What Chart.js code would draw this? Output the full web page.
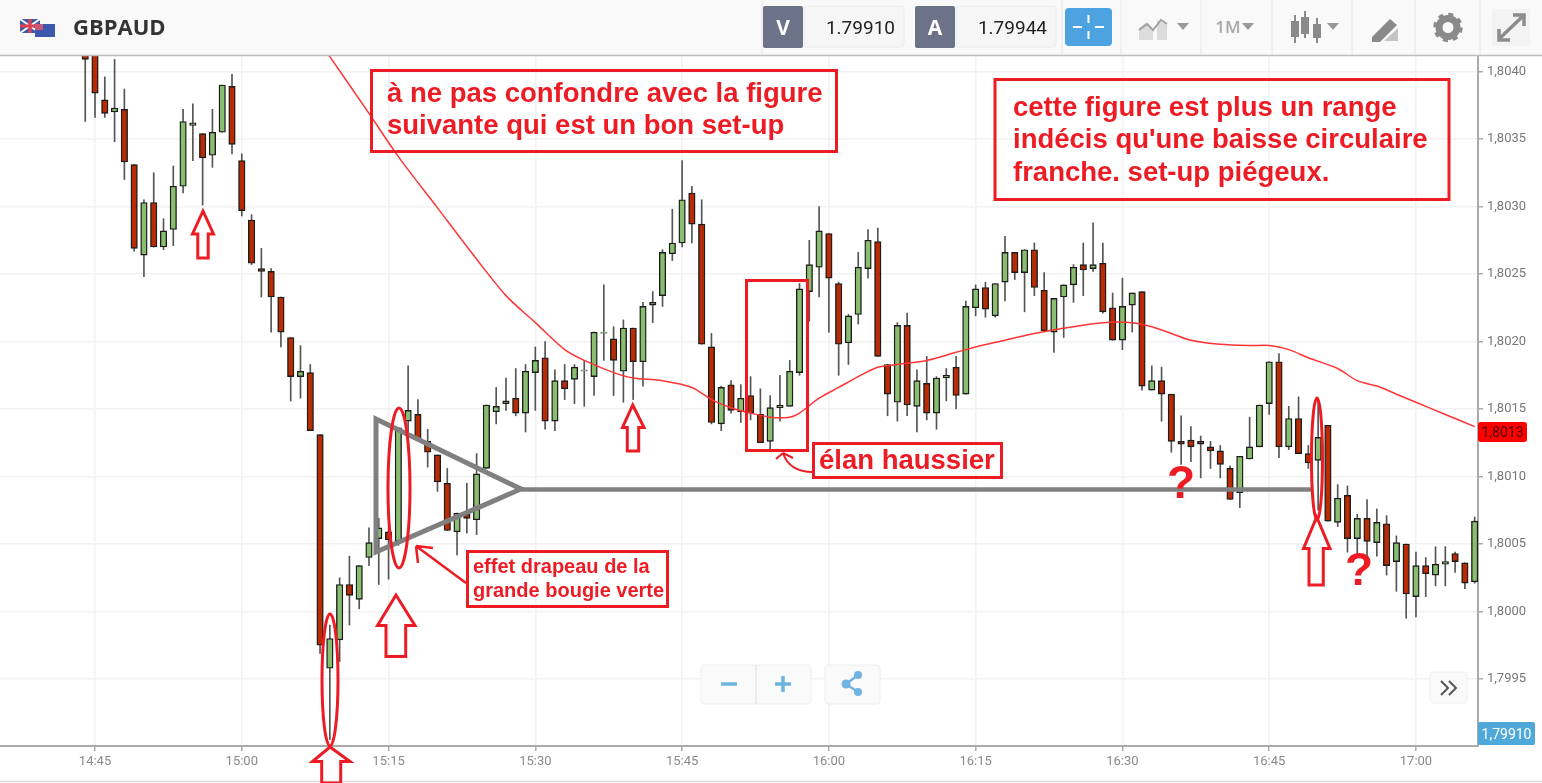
<!DOCTYPE html>
<html>
<head>
<meta charset="utf-8">
<title>GBPAUD</title>
<script src="https://cdn.jsdelivr.net/npm/chart.js@4/dist/chart.umd.min.js"></script>
<style>
html, body { margin: 0; padding: 0; background: #fff; overflow: hidden; }
#page { position: relative; width: 1542px; height: 783px; overflow: hidden; }
#chart { position: absolute; left: 0; top: 56px; }
#over { position: absolute; left: 0; top: 0; }
.note { font-family: "Liberation Sans", Arial, sans-serif; font-weight: bold; fill: #ed1c24; }
.ui { font-family: Roboto, sans-serif; }
</style>
</head>
<body>
<div id="page">
  <canvas id="chart" width="1542" height="727"></canvas>
  <svg id="over" width="1542" height="783" viewBox="0 0 1542 783">
    <!-- toolbar -->
    <rect x="0" y="0" width="1542" height="55" fill="#f9f9f9"/>
    <line x1="0" y1="55.5" x2="1542" y2="55.5" stroke="#bdbdbd" stroke-width="1.5"/>
    <g>
      <rect x="20" y="19" width="20" height="14" fill="#3f5aa8"/>
      <path d="M20 19L40 33M40 19L20 33" stroke="#fff" stroke-width="2"/>
      <path d="M30 19V33M20 26H40" stroke="#e04050" stroke-width="3"/>
      <rect x="35" y="24" width="20" height="13" fill="#3c58ad"/>
      <rect x="35" y="24" width="8" height="6" fill="#c85a78"/>
    </g>
    <text x="73" y="35" font-family="Open Sans" font-weight="700" font-size="22" fill="#333">GBPAUD</text>

    <rect x="804" y="6" width="100" height="41" rx="3" fill="#f6f6f6" stroke="#ececec"/>
    <rect x="763" y="6" width="40" height="42" rx="2" fill="#6c7287"/>
    <text x="783" y="35" text-anchor="middle" font-family="Open Sans" font-weight="700" font-size="21" fill="#fff">V</text>
    <text x="895" y="34" text-anchor="end" class="ui" font-size="19" fill="#222">1.79910</text>
    <rect x="956" y="6" width="100" height="41" rx="3" fill="#f6f6f6" stroke="#ececec"/>
    <rect x="915" y="6" width="40" height="42" rx="2" fill="#6c7287"/>
    <text x="935" y="35" text-anchor="middle" font-family="Open Sans" font-weight="700" font-size="21" fill="#fff">A</text>
    <text x="1047" y="34" text-anchor="end" class="ui" font-size="19" fill="#222">1.79944</text>
    <rect x="1065" y="8" width="47" height="38" rx="4" fill="#4da3df"/>
    <path d="M1088.5 15V23M1088.5 31V39M1073 27H1082M1095 27H1104" stroke="#fff" stroke-width="2"/>

    <path d="M762 0V55M1062 0V55M1121 0V55M1201 0V55M1272 0V55M1352 0V55M1415 0V55M1480 0V55" stroke="#e6e6e6"/>

    <path d="M1139 40V28L1147 22L1153 30V40ZM1157 40V20L1167 25V40Z" fill="#dcdcdc"/>
    <path d="M1139 30L1147 24L1153 30L1161 20L1167 24" stroke="#a0a0a0" stroke-width="2" fill="none"/>
    <path d="M1177 23H1189L1183 30Z" fill="#999"/>
    <text x="1228" y="33" text-anchor="middle" font-family="Open Sans" font-weight="600" font-size="17" fill="#a8a8a8">1M</text>
    <path d="M1242 23H1254L1248 30Z" fill="#999"/>
    <path d="M1295 15V43M1305 11V38M1317 18V43" stroke="#8a8a8a" stroke-width="2"/>
    <rect x="1291" y="21" width="8" height="16" fill="#8a8a8a"/>
    <rect x="1301" y="17" width="8" height="17" fill="#8a8a8a"/>
    <rect x="1313" y="24" width="8" height="14" fill="#8a8a8a"/>
    <path d="M1327 23H1339L1333 30Z" fill="#999"/>
    <path d="M1372 37L1390 19L1397 25L1380 42L1372 42Z" fill="#8a8a8a"/>
    <path d="M1384 41L1398 41L1398 28Z" fill="#c4c4c4"/>
    <circle cx="1448" cy="27.5" r="9" fill="none" stroke="#8a8a8a" stroke-width="7"/>
    <circle cx="1448" cy="27.5" r="13" fill="none" stroke="#8a8a8a" stroke-width="3.5" stroke-dasharray="5 5.2"/>
    <rect x="1492" y="9" width="38" height="37" fill="#f3f3f3"/>
    <path d="M1499 39L1523 16M1513 15H1524V26M1499 29V40H1510" stroke="#8c8c8c" stroke-width="3.5" fill="none"/>

    <!-- bottom controls -->
    <line x1="0" y1="781.5" x2="1542" y2="781.5" stroke="#dcdcdc" stroke-width="1.5"/>
    <rect x="701" y="665" width="110" height="39" rx="3" fill="#fafafa" stroke="#eeeeee"/>
    <line x1="756" y1="665" x2="756" y2="704" stroke="#dddddd"/>
    <path d="M721 684H737M775 684H791M783 676V692" stroke="#6fb4e0" stroke-width="3.5"/>
    <rect x="825" y="665" width="55" height="39" rx="3" fill="#fafafa" stroke="#eeeeee"/>
    <path d="M858 675L846 684L858 692" stroke="#6fb4e0" stroke-width="2.5" fill="none"/>
    <circle cx="858" cy="675" r="4" fill="#6fb4e0"/>
    <circle cx="846" cy="684" r="4.5" fill="#6fb4e0"/>
    <circle cx="858" cy="692" r="4" fill="#6fb4e0"/>
    <rect x="1430" y="672" width="37" height="31" rx="3" fill="#fafafa" stroke="#eeeeee"/>
    <path d="M1441 681L1448 688L1441 695M1449 681L1456 688L1449 695" stroke="#555" stroke-width="2" fill="none"/>

    <!-- price labels -->
    <rect x="1478" y="722" width="57" height="23" rx="2" fill="#4ea8d9"/>
    <text x="1506.5" y="739" text-anchor="middle" class="ui" font-size="14" fill="#fff">1,79910</text>
    <rect x="1478" y="422" width="49" height="20" rx="3" fill="#ff0000"/>
    <text x="1502.5" y="437" text-anchor="middle" class="ui" font-size="14" fill="#4a0000">1,8013</text>

    <!-- flag drawn over the big candle -->
    <path d="M376 419L521 489L376 552Z" fill="none" stroke="#808080" stroke-width="5" stroke-linejoin="miter"/>
    <line x1="521" y1="489.5" x2="1311" y2="489.5" stroke="#808080" stroke-width="4.5"/>

    <!-- notes -->
    <g fill="none" stroke="#ed1c24" stroke-width="3">
      <rect x="371.5" y="70.5" width="465" height="81"/>
      <rect x="995" y="79.5" width="454" height="120"/>
      <rect x="813.5" y="443.5" width="188" height="34"/>
      <rect x="467.5" y="551.5" width="200" height="55"/>
      <rect x="746.5" y="280.5" width="61" height="170"/>
      <ellipse cx="330" cy="680" rx="8" ry="66"/>
      <ellipse cx="399" cy="488" rx="11" ry="80"/>
      <ellipse cx="1317" cy="459" rx="5.5" ry="61"/>
      <path d="M203 211L192.5 234H197.8V258H208.2V234H213.5Z"/>
      <path d="M330 747L312.5 761.5H321.7V783H340.7V761.5H350Z"/>
      <path d="M396 595L377.5 625.5H386V656.5H405.7V625.5H415Z"/>
      <path d="M632.7 405L622.5 427.5H627.3V451H638.7V427.5H644Z"/>
      <path d="M1316.7 517L1303.5 548.5H1309V585H1323.3V548.5H1330Z"/>
      <path d="M466 583L416 546M416 546L433 548M416 546L418 563" stroke-width="2.5"/>
      <path d="M813 472C797 472 787 465 783 453M783 453L776 459M783 453L793 458" stroke-width="2"/>
    </g>
    <text class="note" x="387" y="102" font-size="27.5">à ne pas confondre avec la figure</text>
    <text class="note" x="387" y="134" font-size="27.5">suivante qui est un bon set-up</text>
    <text class="note" x="1013" y="116" font-size="27.5">cette figure est plus un range</text>
    <text class="note" x="1013" y="148" font-size="27.5">indécis qu'une baisse circulaire</text>
    <text class="note" x="1013" y="181" font-size="27.5">franche. set-up piégeux.</text>
    <text class="note" x="819" y="469" font-size="27.5">élan haussier</text>
    <text class="note" x="473" y="573" font-size="20">effet drapeau de la</text>
    <text class="note" x="473" y="597" font-size="20">grande bougie verte</text>
    <text class="note" x="1181" y="498" font-size="46" text-anchor="middle">?</text>
    <text class="note" x="1359" y="585" font-size="46" text-anchor="middle">?</text>
  </svg>
</div>
<script>
const candleTimes = [
  '14:44', '14:45', '14:46', '14:47', '14:48', '14:49', '14:50', '14:51', '14:52', '14:53', '14:54', '14:55',
  '14:56', '14:57', '14:58', '14:59', '15:00', '15:01', '15:02', '15:03', '15:04', '15:05', '15:06', '15:07',
  '15:08', '15:09', '15:10', '15:11', '15:12', '15:13', '15:14', '15:15', '15:16', '15:17', '15:18', '15:19',
  '15:20', '15:21', '15:22', '15:23', '15:24', '15:25', '15:26', '15:27', '15:28', '15:29', '15:30', '15:31',
  '15:32', '15:33', '15:34', '15:35', '15:36', '15:37', '15:38', '15:39', '15:40', '15:41', '15:42', '15:43',
  '15:44', '15:45', '15:46', '15:47', '15:48', '15:49', '15:50', '15:51', '15:52', '15:53', '15:54', '15:55',
  '15:56', '15:57', '15:58', '15:59', '16:00', '16:01', '16:02', '16:03', '16:04', '16:05', '16:06', '16:07',
  '16:08', '16:09', '16:10', '16:11', '16:12', '16:13', '16:14', '16:15', '16:16', '16:17', '16:18', '16:19',
  '16:20', '16:21', '16:22', '16:23', '16:24', '16:25', '16:26', '16:27', '16:28', '16:29', '16:30', '16:31',
  '16:32', '16:33', '16:34', '16:35', '16:36', '16:37', '16:38', '16:39', '16:40', '16:41', '16:42', '16:43',
  '16:44', '16:45', '16:46', '16:47', '16:48', '16:49', '16:50', '16:51', '16:52', '16:53', '16:54', '16:55',
  '16:56', '16:57', '16:58', '16:59', '17:00', '17:01', '17:02', '17:03', '17:04', '17:05', '17:06'
];
const openPrices = [
  1.80416, 1.80423, 1.80379, 1.80370, 1.80372, 1.80331, 1.80264, 1.80303, 1.80270, 1.80283, 1.80315, 1.80360,
  1.80354, 1.80338, 1.80355, 1.80389, 1.80334, 1.80290, 1.80254, 1.80252, 1.80233, 1.80203, 1.80174, 1.80177,
  1.80131, 1.79958, 1.79979, 1.80020, 1.80009, 1.80040, 1.80054, 1.80059, 1.80052, 1.80141, 1.80146, 1.80126,
  1.80116, 1.80095, 1.80059, 1.80072, 1.80068, 1.80106, 1.80148, 1.80154, 1.80158, 1.80147, 1.80177, 1.80188,
  1.80141, 1.80171, 1.80172, 1.80178, 1.80174, 1.80206, 1.80202, 1.80178, 1.80210, 1.80185, 1.80227, 1.80234,
  1.80265, 1.80273, 1.80310, 1.80287, 1.80196, 1.80139, 1.80168, 1.80148, 1.80160, 1.80146, 1.80126, 1.80151,
  1.80152, 1.80177, 1.80237, 1.80255, 1.80280, 1.80243, 1.80199, 1.80220, 1.80254, 1.80274, 1.80183, 1.80155,
  1.80212, 1.80152, 1.80169, 1.80147, 1.80173, 1.80181, 1.80161, 1.80225, 1.80240, 1.80219, 1.80244, 1.80266,
  1.80251, 1.80268, 1.80238, 1.80207, 1.80233, 1.80242, 1.80257, 1.80254, 1.80258, 1.80225, 1.80201, 1.80227,
  1.80237, 1.80164, 1.80171, 1.80161, 1.80126, 1.80127, 1.80126, 1.80122, 1.80119, 1.80106, 1.80088, 1.80113,
  1.80122, 1.80154, 1.80185, 1.80122, 1.80143, 1.80117, 1.80112, 1.80138, 1.80066, 1.80086, 1.80054, 1.80069,
  1.80051, 1.80065, 1.80037, 1.80050, 1.80011, 1.80034, 1.80027, 1.80035, 1.80043, 1.80036, 1.80022
];
const highPrices = [
  1.80423, 1.80431, 1.80396, 1.80409, 1.80387, 1.80331, 1.80305, 1.80325, 1.80291, 1.80330, 1.80372, 1.80376,
  1.80354, 1.80372, 1.80390, 1.80398, 1.80339, 1.80294, 1.80269, 1.80254, 1.80233, 1.80203, 1.80197, 1.80183,
  1.80131, 1.79990, 1.80025, 1.80041, 1.80034, 1.80062, 1.80069, 1.80062, 1.80136, 1.80182, 1.80157, 1.80135,
  1.80116, 1.80106, 1.80073, 1.80095, 1.80117, 1.80153, 1.80166, 1.80173, 1.80180, 1.80183, 1.80196, 1.80200,
  1.80179, 1.80183, 1.80183, 1.80186, 1.80207, 1.80242, 1.80211, 1.80216, 1.80210, 1.80229, 1.80237, 1.80268,
  1.80298, 1.80334, 1.80315, 1.80305, 1.80206, 1.80167, 1.80171, 1.80168, 1.80174, 1.80165, 1.80160, 1.80175,
  1.80186, 1.80243, 1.80275, 1.80300, 1.80280, 1.80244, 1.80220, 1.80266, 1.80283, 1.80284, 1.80183, 1.80214,
  1.80221, 1.80179, 1.80189, 1.80174, 1.80180, 1.80189, 1.80230, 1.80242, 1.80244, 1.80243, 1.80278, 1.80266,
  1.80268, 1.80273, 1.80251, 1.80232, 1.80242, 1.80257, 1.80273, 1.80288, 1.80273, 1.80236, 1.80247, 1.80236,
  1.80237, 1.80182, 1.80181, 1.80161, 1.80145, 1.80137, 1.80130, 1.80126, 1.80123, 1.80108, 1.80115, 1.80144,
  1.80153, 1.80185, 1.80191, 1.80152, 1.80159, 1.80123, 1.80157, 1.80138, 1.80094, 1.80093, 1.80072, 1.80083,
  1.80076, 1.80071, 1.80056, 1.80050, 1.80044, 1.80040, 1.80048, 1.80048, 1.80044, 1.80036, 1.80070
];
const lowPrices = [
  1.80363, 1.80366, 1.80366, 1.80348, 1.80320, 1.80267, 1.80248, 1.80270, 1.80268, 1.80271, 1.80310, 1.80334,
  1.80301, 1.80329, 1.80355, 1.80339, 1.80293, 1.80257, 1.80233, 1.80207, 1.80196, 1.80156, 1.80158, 1.80134,
  1.79969, 1.79905, 1.79963, 1.79990, 1.80002, 1.80034, 1.80020, 1.80024, 1.80049, 1.80133, 1.80127, 1.80107,
  1.80089, 1.80060, 1.80042, 1.80058, 1.80057, 1.80106, 1.80139, 1.80149, 1.80145, 1.80133, 1.80149, 1.80135,
  1.80134, 1.80157, 1.80154, 1.80152, 1.80160, 1.80186, 1.80160, 1.80155, 1.80157, 1.80167, 1.80214, 1.80226,
  1.80260, 1.80270, 1.80273, 1.80198, 1.80139, 1.80134, 1.80147, 1.80140, 1.80142, 1.80125, 1.80120, 1.80141,
  1.80152, 1.80175, 1.80215, 1.80233, 1.80207, 1.80175, 1.80183, 1.80213, 1.80247, 1.80189, 1.80145, 1.80141,
  1.80145, 1.80133, 1.80142, 1.80135, 1.80156, 1.80150, 1.80161, 1.80219, 1.80218, 1.80218, 1.80230, 1.80246,
  1.80222, 1.80234, 1.80208, 1.80192, 1.80203, 1.80229, 1.80234, 1.80252, 1.80221, 1.80201, 1.80194, 1.80207,
  1.80164, 1.80164, 1.80141, 1.80118, 1.80109, 1.80111, 1.80099, 1.80106, 1.80099, 1.80083, 1.80077, 1.80113,
  1.80122, 1.80146, 1.80114, 1.80120, 1.80117, 1.80106, 1.80075, 1.80067, 1.80063, 1.80044, 1.80041, 1.80041,
  1.80041, 1.80027, 1.80015, 1.79995, 1.79996, 1.80011, 1.80019, 1.80019, 1.80029, 1.80017, 1.80021
];
const closePrices = [
  1.80409, 1.80384, 1.80369, 1.80373, 1.80333, 1.80269, 1.80303, 1.80270, 1.80282, 1.80315, 1.80363, 1.80362,
  1.80336, 1.80355, 1.80390, 1.80346, 1.80297, 1.80258, 1.80252, 1.80233, 1.80207, 1.80174, 1.80178, 1.80134,
  1.79975, 1.79980, 1.80020, 1.80012, 1.80034, 1.80051, 1.80062, 1.80053, 1.80136, 1.80149, 1.80128, 1.80118,
  1.80096, 1.80060, 1.80073, 1.80069, 1.80102, 1.80153, 1.80152, 1.80156, 1.80147, 1.80178, 1.80186, 1.80141,
  1.80171, 1.80165, 1.80181, 1.80179, 1.80207, 1.80207, 1.80186, 1.80210, 1.80185, 1.80226, 1.80229, 1.80266,
  1.80273, 1.80305, 1.80287, 1.80198, 1.80140, 1.80166, 1.80149, 1.80158, 1.80147, 1.80125, 1.80151, 1.80153,
  1.80178, 1.80239, 1.80257, 1.80282, 1.80247, 1.80198, 1.80219, 1.80255, 1.80275, 1.80189, 1.80161, 1.80212,
  1.80153, 1.80171, 1.80147, 1.80173, 1.80175, 1.80160, 1.80226, 1.80239, 1.80224, 1.80243, 1.80266, 1.80251,
  1.80268, 1.80240, 1.80208, 1.80232, 1.80242, 1.80255, 1.80253, 1.80257, 1.80222, 1.80201, 1.80226, 1.80236,
  1.80167, 1.80171, 1.80161, 1.80126, 1.80124, 1.80122, 1.80124, 1.80119, 1.80109, 1.80083, 1.80115, 1.80122,
  1.80153, 1.80185, 1.80122, 1.80143, 1.80117, 1.80110, 1.80129, 1.80067, 1.80084, 1.80054, 1.80069, 1.80052,
  1.80066, 1.80034, 1.80051, 1.80013, 1.80034, 1.80028, 1.80035, 1.80037, 1.80037, 1.80021, 1.80067
];

// red moving average, read every few minutes
const maTimes = [
  '15:07', '15:09', '15:13', '15:16', '15:20', '15:24', '15:27', '15:30', '15:33', '15:35', '15:38', '15:40',
  '15:43', '15:46', '15:48', '15:50', '15:52', '15:54', '15:56', '15:57', '15:59', '16:01', '16:03', '16:05',
  '16:07', '16:10', '16:13', '16:15', '16:18', '16:21', '16:25', '16:28', '16:31', '16:33', '16:35', '16:37',
  '16:40', '16:43', '16:45', '16:47', '16:49', '16:52', '16:54', '16:56', '16:58', '17:00', '17:03', '17:06'
];
const maValues = [
  1.80432, 1.80411, 1.80369, 1.80337, 1.80299, 1.80261, 1.80234, 1.80214, 1.80194, 1.80186, 1.80177, 1.80173,
  1.80171, 1.80166, 1.80157, 1.80151, 1.80147, 1.80144, 1.80144, 1.80147, 1.80158, 1.80166, 1.80174, 1.80181,
  1.80183, 1.80186, 1.80192, 1.80196, 1.80201, 1.80206, 1.80211, 1.80214, 1.80214, 1.80211, 1.80206, 1.80201,
  1.80198, 1.80197, 1.80197, 1.80194, 1.80188, 1.80180, 1.80171, 1.80167, 1.80161, 1.80155, 1.80146, 1.80137
];

const xTickLabels = ['14:45', '15:00', '15:15', '15:30', '15:45', '16:00', '16:15', '16:30', '16:45', '17:00'];
const yTickValues = [1.7995, 1.8000, 1.8005, 1.8010, 1.8015, 1.8020, 1.8025, 1.8030, 1.8035, 1.8040];

function toMinutes(t) {
    const p = t.split(':');
    return Number(p[0]) * 60 + Number(p[1]);
}
function fromMinutes(m) {
    return Math.floor(m / 60) + ':' + String(m % 60).padStart(2, '0');
}

const greenFill = '#89be70';
const redFill = '#b92b04';

const bodies = candleTimes.map((t, i) => ({
    x: toMinutes(t),
    y: [openPrices[i], closePrices[i]]
}));
const wicks = candleTimes.map((t, i) => ({
    x: toMinutes(t),
    y: [lowPrices[i], highPrices[i]]
}));
const maLine = maTimes.map((t, i) => ({ x: toMinutes(t), y: maValues[i] }));

const ctx = document.getElementById('chart').getContext('2d');
new Chart(ctx, {
    type: 'bar',
    data: {
        datasets: [{
            type: 'line',
            data: maLine,
            borderColor: '#ff3535',
            borderWidth: 1.5,
            pointRadius: 0,
            tension: 0.3,
            order: 0
        }, {
            data: bodies,
            grouped: false,
            barThickness: 6.5,
            borderWidth: 1.4,
            borderSkipped: false,
            backgroundColor: c => closePrices[c.dataIndex] >= openPrices[c.dataIndex] ? greenFill : redFill,
            // the two flat candles show as a grey dash
            borderColor: c => Math.abs(closePrices[c.dataIndex] - openPrices[c.dataIndex]) < 0.000015 ? '#808080' : '#1c1c1c',
            order: 1
        }, {
            data: wicks,
            grouped: false,
            barThickness: 1,
            backgroundColor: '#555',
            order: 2
        }]
    },
    options: {
        responsive: false,
        animation: false,
        layout: { padding: 0 },
        plugins: {
            legend: { display: false },
            tooltip: { enabled: false }
        },
        scales: {
            x: {
                type: 'linear',
                offset: false,
                min: 875.29,
                max: 1026.34,
                afterFit: s => { s.height = 37; s.paddingLeft = 0; s.paddingRight = 0; },
                afterBuildTicks: s => { s.ticks = xTickLabels.map(t => ({ value: toMinutes(t) })); },
                grid: { offset: false, color: '#f2f2f2', lineWidth: 1.5, tickColor: '#aaa', tickLength: 5 },
                border: { color: '#aaa', width: 2 },
                ticks: {
                    autoSkip: false,
                    maxRotation: 0,
                    padding: 3,
                    color: '#8a8a8a',
                    font: { family: 'Roboto', size: 13 },
                    callback: v => fromMinutes(v)
                }
            },
            y: {
                position: 'right',
                min: 1.799004,
                max: 1.804115,
                afterFit: s => { s.width = 64; s.paddingTop = 0; s.paddingBottom = 0; },
                afterBuildTicks: s => { s.ticks = yTickValues.map(v => ({ value: v })); },
                grid: { color: '#f2f2f2', lineWidth: 1.5, tickColor: '#aaa', tickLength: 5 },
                border: { color: '#aaa', width: 2 },
                ticks: {
                    padding: 4,
                    color: '#777',
                    font: { family: 'Roboto', size: 13 },
                    callback: v => v.toFixed(4).replace('.', ',')
                }
            }
        }
    }
});
</script>
</body>
</html>
